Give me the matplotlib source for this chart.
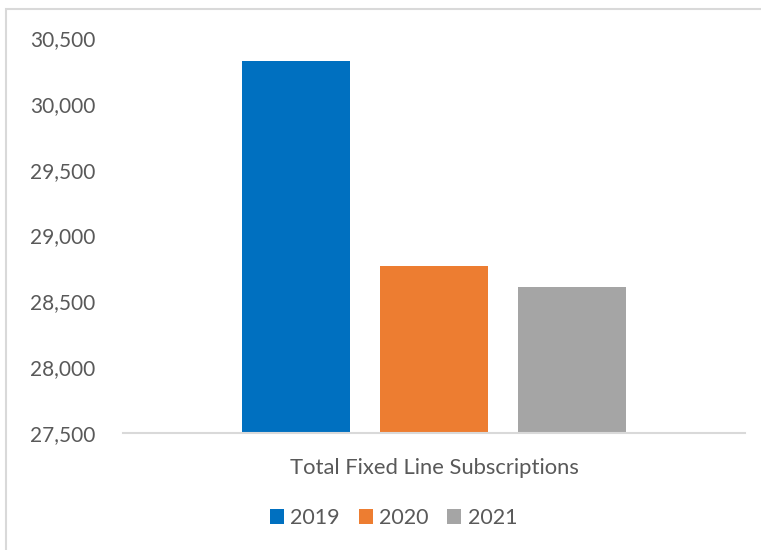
import matplotlib
matplotlib.use('Agg')
import matplotlib.pyplot as plt
from matplotlib.patches import Rectangle
from matplotlib.ticker import FuncFormatter, MultipleLocator

category = 'Total Fixed Line Subscriptions'
years = ['2019', '2020', '2021']
subscriptions = [30325, 28768, 28609]
colors = ['#0070C0', '#ED7D31', '#A5A5A5']

TEXT = '#595959'
FRAME = '#D9D9D9'

plt.rcParams['font.family'] = ['Lato', 'DejaVu Sans']

fig = plt.figure(figsize=(7.61, 5.5), dpi=100)
ax = fig.add_axes([123 / 761, 1 - 433 / 550, 622 / 761, 395 / 550])

# light chart-area frame (open at the right and bottom edges)
fig.patches.append(Rectangle((6 / 761, -0.05), 1.1, 1 - 9 / 550 + 0.05,
                             transform=fig.transFigure, fill=False,
                             edgecolor=FRAME, linewidth=1.5))

width = 0.174
step = 0.222
for i, (yr, val, c) in enumerate(zip(years, subscriptions, colors)):
    ax.bar((i - 1) * step, val, width=width, color=c, label=yr, zorder=2)

ax.set_xlim(-0.5, 0.5)
ax.set_ylim(27500, 30500)
ax.yaxis.set_major_locator(MultipleLocator(500))
ax.yaxis.set_major_formatter(FuncFormatter(lambda v, p: f'{int(v):,}'))
ax.set_xticks([0])
ax.set_xticklabels([category])

for side in ('left', 'right', 'top'):
    ax.spines[side].set_visible(False)
ax.spines['bottom'].set_color(FRAME)
ax.spines['bottom'].set_linewidth(1.5)
ax.tick_params(axis='both', length=0, colors=TEXT, labelsize=15)
ax.tick_params(axis='y', pad=20)
ax.tick_params(axis='x', pad=18, labelsize=15.8)

fig.legend(loc='center', bbox_to_anchor=(393.5 / 761, 1 - 518 / 550), ncol=3,
           frameon=False, fontsize=15.5, handlelength=0.65, handleheight=0.65,
           handletextpad=0.3, columnspacing=0.88, labelcolor=TEXT)

fig.savefig('out.png', dpi=100)
